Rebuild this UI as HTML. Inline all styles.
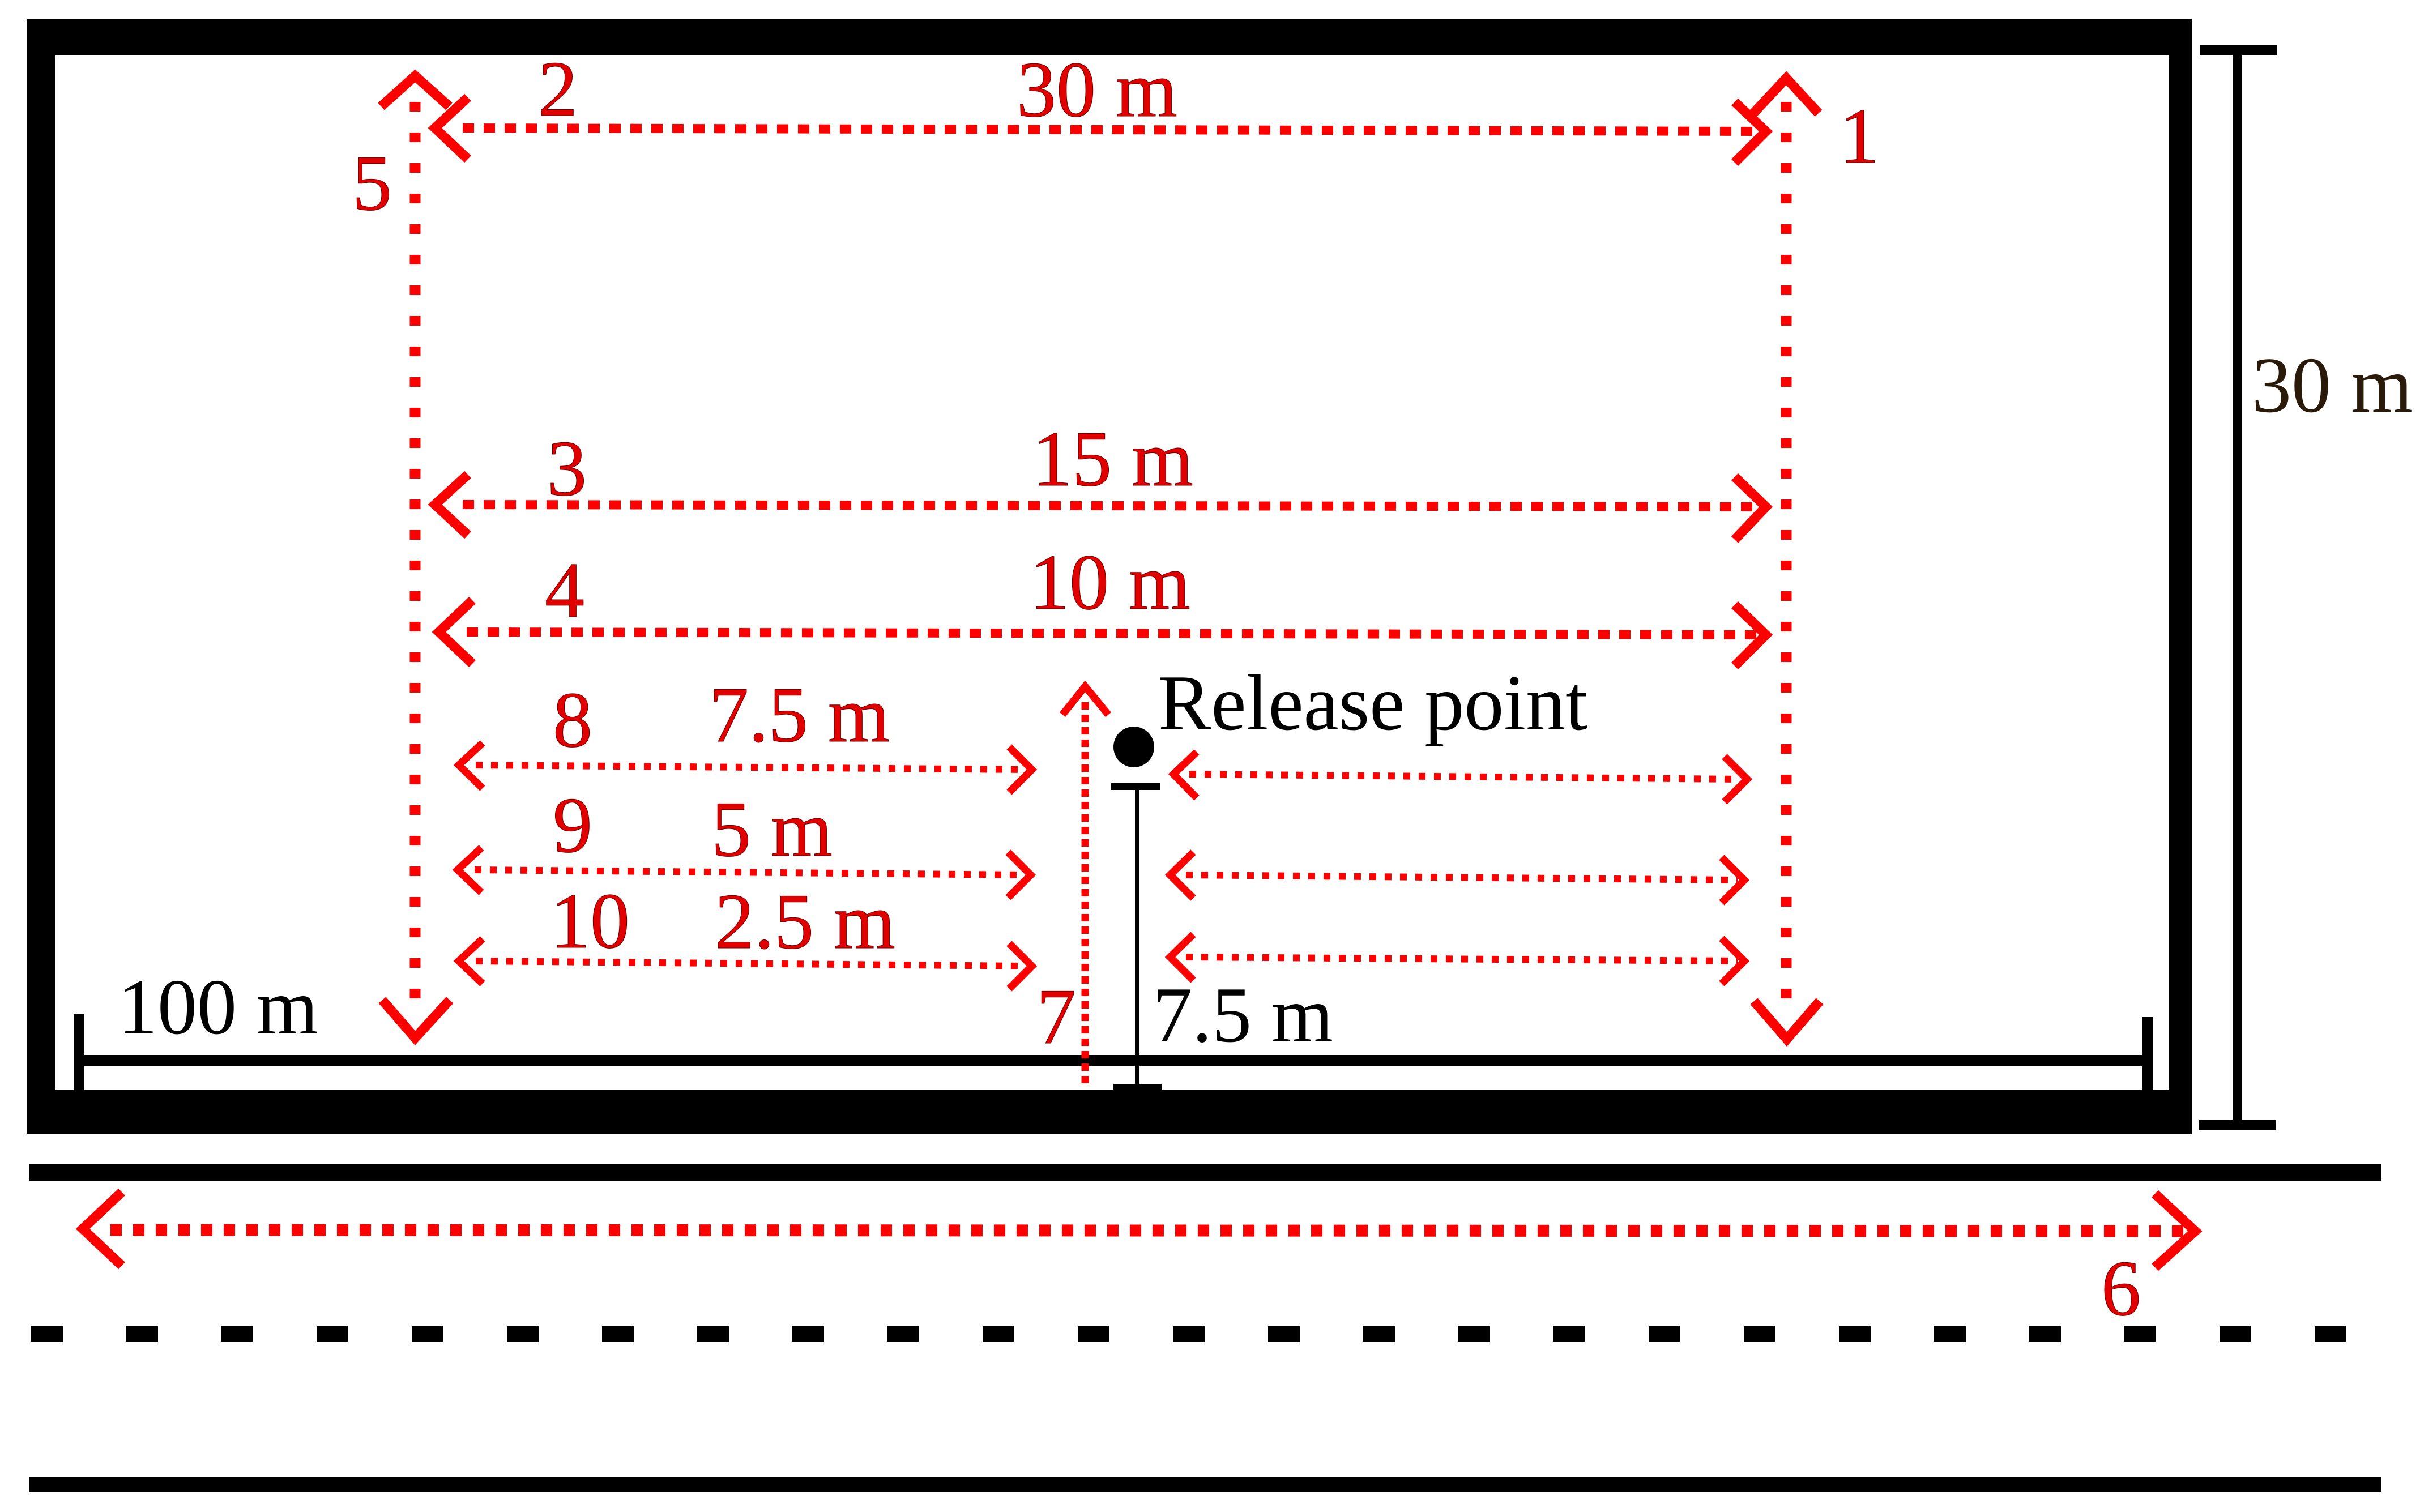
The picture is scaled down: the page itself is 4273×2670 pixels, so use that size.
<!DOCTYPE html>
<html><head><meta charset="utf-8"><style>html,body{margin:0;padding:0;background:#fff}svg{display:block}</style></head>
<body>
<svg width="4273" height="2670" viewBox="0 0 4273 2670" xmlns="http://www.w3.org/2000/svg">
<rect width="4273" height="2670" fill="#fff"/>
<!-- frame -->
<rect x="47" y="34" width="3824" height="1968" fill="#000"/>
<rect x="97" y="98" width="3732" height="1826" fill="#fff"/>
<!-- right 30 m scale -->
<rect x="3884" y="80" width="136" height="18" fill="#000"/>
<rect x="3943" y="88" width="15" height="1900" fill="#000"/>
<rect x="3882" y="1978" width="136" height="18" fill="#000"/>
<!-- 100 m bar -->
<rect x="131" y="1863" width="3671" height="19" fill="#000"/>
<rect x="131" y="1790" width="17" height="134" fill="#000"/>
<rect x="3783" y="1796" width="19" height="128" fill="#000"/>
<!-- stand -->
<rect x="1961" y="1382" width="87" height="13" fill="#000"/>
<rect x="2004" y="1394" width="8" height="522" fill="#000"/>
<rect x="1966" y="1914" width="85" height="11" fill="#000"/>
<ellipse cx="2002" cy="1319" rx="36" ry="36" fill="#000"/>
<!-- road -->
<rect x="51" y="2056" width="4154" height="29" fill="#000"/>
<line x1="55" y1="2356" x2="4170" y2="2356" stroke="#000" stroke-width="28" stroke-dasharray="56 112"/>
<rect x="51" y="2608" width="4153" height="27" fill="#000"/>

<g fill="none" stroke="#f00">
<!-- big horizontal arrows -->
<g stroke-width="16" stroke-dasharray="20 17">
<line x1="817" y1="226" x2="3110" y2="232"/>
<line x1="817" y1="891" x2="3110" y2="895"/>
<line x1="824" y1="1116" x2="3110" y2="1121"/>
</g>
<g stroke-width="17" stroke-linejoin="miter" stroke-miterlimit="10">
<path d="M826 172 L768 226 L826 281"/>
<path d="M3063 180 L3118 232 L3063 287"/>
<path d="M826 838 L768 891 L826 945"/>
<path d="M3063 842 L3118 895 L3063 953"/>
<path d="M834 1060 L775 1116 L834 1172"/>
<path d="M3063 1068 L3118 1121 L3063 1176"/>
</g>
<!-- vertical 5 and 1 -->
<g stroke-width="19" stroke-dasharray="17 37">
<line x1="733" y1="180" x2="733" y2="1790"/>
<line x1="3154" y1="180" x2="3154" y2="1790"/>
</g>
<g stroke-width="17">
<path d="M673 188 L733 134 L793 188"/>
<path d="M3096 200 L3154 138 L3211 200"/>
<path d="M675 1766 L733 1833 L794 1766"/>
<path d="M3097 1768 L3155 1835 L3213 1768"/>
</g>
<!-- line 7 -->
<line x1="1916" y1="1240" x2="1916" y2="1922" stroke-width="13" stroke-dasharray="13 9"/>
<path d="M1876 1262 L1916 1212 L1957 1262" stroke-width="13"/>
<!-- small arrows -->
<g stroke-width="12" stroke-dasharray="12 15">
<line x1="840" y1="1351" x2="1810" y2="1359"/>
<line x1="838" y1="1536" x2="1808" y2="1545"/>
<line x1="840" y1="1697" x2="1810" y2="1706"/>
<line x1="2100" y1="1367" x2="3072" y2="1376"/>
<line x1="2094" y1="1545" x2="3068" y2="1554"/>
<line x1="2094" y1="1690" x2="3068" y2="1697"/>
</g>
<g stroke-width="13">
<path d="M852 1312 L810 1351 L852 1392"/>
<path d="M1782 1319 L1822 1359 L1782 1399"/>
<path d="M850 1497 L808 1536 L850 1576"/>
<path d="M1780 1505 L1820 1545 L1780 1585"/>
<path d="M852 1658 L810 1697 L852 1737"/>
<path d="M1782 1666 L1822 1706 L1782 1746"/>
<path d="M2113 1328 L2072 1367 L2113 1409"/>
<path d="M3045 1336 L3085 1376 L3045 1416"/>
<path d="M2107 1505 L2066 1545 L2107 1586"/>
<path d="M3040 1514 L3080 1554 L3040 1594"/>
<path d="M2107 1650 L2066 1690 L2107 1731"/>
<path d="M3040 1657 L3080 1697 L3040 1737"/>
</g>
<!-- arrow 6 -->
<line x1="195" y1="2172" x2="3860" y2="2174" stroke-width="21" stroke-dasharray="20 20"/>
<path d="M215 2105 L146 2170 L215 2235" stroke-width="17"/>
<path d="M3805 2108 L3876 2174 L3805 2238" stroke-width="17"/>
</g>

<g font-family="'Liberation Serif', serif" font-size="140" fill="#e00000" stroke="#600" stroke-width="1">
<text x="950" y="204">2</text>
<text x="622" y="370">5</text>
<text x="3248" y="287">1</text>
<text x="966" y="874">3</text>
<text x="962" y="1089">4</text>
<text x="1795" y="205">30 m</text>
<text x="1823" y="857">15 m</text>
<text x="1818" y="1075">10 m</text>
<text x="976" y="1318">8</text>
<text x="1252" y="1309">7.5 m</text>
<text x="976" y="1504">9</text>
<text x="1256" y="1511">5 m</text>
<text x="972" y="1673">10</text>
<text x="1262" y="1674">2.5 m</text>
<text x="1830" y="1842">7</text>
<text x="3710" y="2322">6</text>
</g>
<g font-family="'Liberation Serif', serif" font-size="140" fill="#000">
<text x="2045" y="1288">Release point</text>
<text x="2035" y="1839">7.5 m</text>
<text x="208" y="1825">100 m</text>
<text x="3976" y="727" fill="#2a1a0a">30 m</text>
</g>
</svg>
</body></html>
